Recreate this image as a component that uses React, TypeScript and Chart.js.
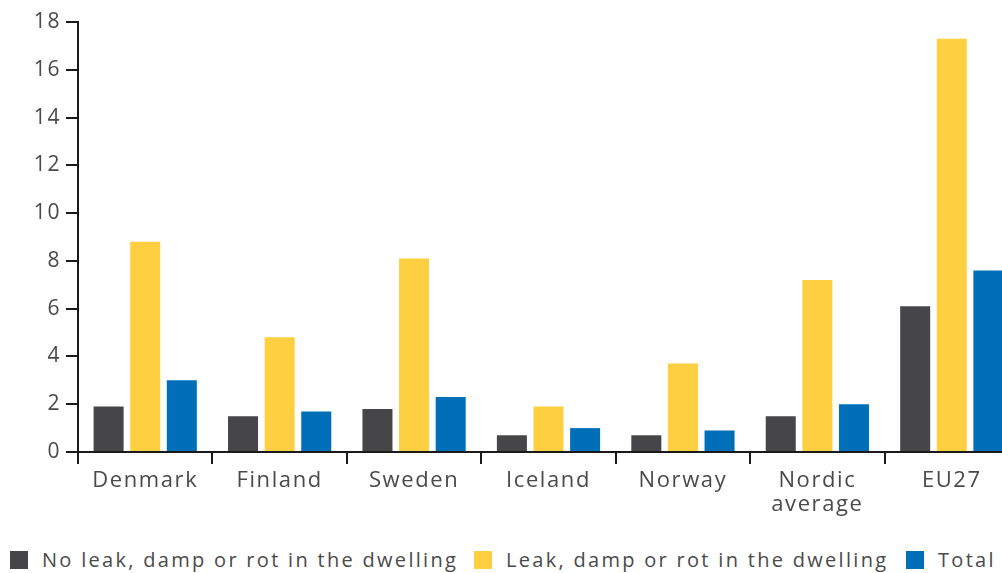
import React, { useEffect, useRef } from 'react';
import { Chart, registerables } from 'chart.js';

Chart.register(...registerables);

const categories: (string | string[])[] = [
  'Denmark',
  'Finland',
  'Sweden',
  'Iceland',
  'Norway',
  ['Nordic', 'average'],
  'EU27',
];
const noLeakValues = [1.9, 1.5, 1.8, 0.7, 0.7, 1.5, 6.1];
const leakValues = [8.8, 4.8, 8.1, 1.9, 3.7, 7.2, 17.3];
const totalValues = [3.0, 1.7, 2.3, 1.0, 0.9, 2.0, 7.6];
const seriesNames = [
  'No leak, damp or rot in the dwelling',
  'Leak, damp or rot in the dwelling',
  'Total',
];
const seriesColors = ['#464648', '#FDCF41', '#006FB8'];
const yMin = 0;
const yMax = 18;
const yStep = 2;

const TEXT_COLOR = '#4a4a4a';
const FONT_FAMILY = '"Open Sans", "Noto Sans", sans-serif';
const LETTER_SPACING = '1.6px';

const spacingPlugin = {
  id: 'letterSpacing',
  beforeUpdate(chart: any) {
    chart.ctx.letterSpacing = LETTER_SPACING;
  },
  beforeLayout(chart: any) {
    chart.ctx.letterSpacing = LETTER_SPACING;
  },
  beforeDraw(chart: any) {
    chart.ctx.letterSpacing = LETTER_SPACING;
  },
};

const legendLefts = [10, 474, 906];

export default function App() {
  const canvasRef = useRef<HTMLCanvasElement | null>(null);

  useEffect(() => {
    const canvas = canvasRef.current;
    if (!canvas) return;
    const values = [noLeakValues, leakValues, totalValues];
    const chart = new Chart(canvas, {
      type: 'bar',
      data: {
        labels: categories as any,
        datasets: values.map((v, i) => ({
          label: seriesNames[i],
          data: v,
          backgroundColor: seriesColors[i],
          borderWidth: 0,
          categoryPercentage: 0.817,
          barPercentage: 0.82,
        })),
      },
      options: {
        animation: false,
        responsive: false,
        devicePixelRatio: 1,
        layout: { padding: { top: 22, left: 0, right: 0, bottom: 0 } },
        plugins: {
          legend: { display: false },
          tooltip: { enabled: false },
        },
        scales: {
          x: {
            offset: true,
            grid: {
              offset: true,
              drawOnChartArea: false,
              drawTicks: true,
              tickLength: 12,
              lineWidth: 2,
              color: '#1a1a1a',
            },
            border: { display: true, color: '#1a1a1a', width: 2 },
            ticks: {
              autoSkip: false,
              maxRotation: 0,
              minRotation: 0,
              padding: 5,
              color: TEXT_COLOR,
              font: { family: FONT_FAMILY, size: 22, lineHeight: 1.08 },
            },
            afterFit: (s: any) => {
              s.height = 68;
            },
          },
          y: {
            min: yMin,
            max: yMax,
            grid: {
              drawOnChartArea: false,
              drawTicks: true,
              tickLength: 12,
              lineWidth: 2,
              color: '#1a1a1a',
            },
            border: { display: true, color: '#1a1a1a', width: 2 },
            ticks: {
              stepSize: yStep,
              padding: 5,
              color: TEXT_COLOR,
              font: { family: FONT_FAMILY, size: 21 },
            },
            afterFit: (s: any) => {
              s.width = 78;
            },
          },
        },
      },
      plugins: [spacingPlugin],
    });
    return () => chart.destroy();
  }, []);

  return (
    <div
      style={{
        position: 'absolute',
        left: 0,
        top: 0,
        width: 1002,
        height: 573,
        overflow: 'hidden',
        background: '#fff',
      }}
    >
      <canvas
        ref={canvasRef}
        width={1019}
        height={520}
        style={{ display: 'block', width: 1019, height: 520 }}
      />
      {seriesNames.map((name, i) => (
        <div
          key={name}
          style={{
            position: 'absolute',
            top: 550,
            left: legendLefts[i],
            height: 20,
            display: 'flex',
            alignItems: 'center',
            whiteSpace: 'nowrap',
            fontFamily: FONT_FAMILY,
            fontSize: 20,
            lineHeight: '20px',
            letterSpacing: '2.3px',
            color: TEXT_COLOR,
          }}
        >
          <span
            style={{
              display: 'inline-block',
              width: 18,
              height: 18,
              background: seriesColors[i],
              marginRight: 14,
            }}
          />
          <span>{name}</span>
        </div>
      ))}
    </div>
  );
}
